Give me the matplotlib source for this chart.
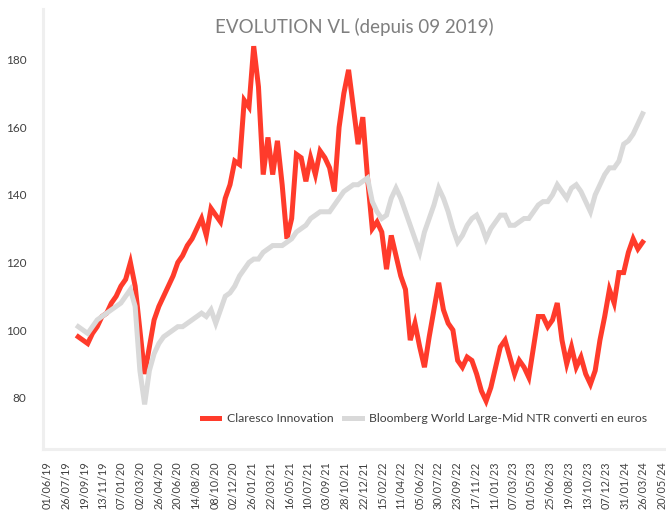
import matplotlib
matplotlib.use("Agg")
import matplotlib.pyplot as plt
import pandas as pd

plt.rcParams['font.family'] = ['Lato', 'DejaVu Sans']

title = "EVOLUTION VL (depuis 09 2019)"
name_claresco = "Claresco Innovation"
name_bloomberg = "Bloomberg World Large-Mid NTR converti en euros"

dates = pd.date_range("2019-09-01", periods=120, freq="14D")

claresco = [98, 97, 96, 99, 101, 104, 105, 108, 110, 113,
            115, 120, 113, 100, 87, 95, 103, 107, 110, 113,
            116, 120, 122, 125, 127, 130, 133, 128, 136, 134,
            132, 139, 143, 150, 149, 168, 166, 184, 172, 146,
            157, 146, 156, 143, 127, 133, 152, 151, 144, 151,
            146, 153, 151, 148, 141, 160, 170, 177, 166, 155,
            163, 145, 130, 132, 129, 118, 128, 122, 116, 112,
            97, 102, 95, 89, 98, 106, 114, 106, 102, 100,
            91, 89, 92, 91, 87, 82, 79, 83, 89, 95,
            97, 92, 87, 91, 89, 86, 95, 104, 104, 101,
            103, 108, 97, 90, 95, 89, 92, 87, 84, 88,
            97, 104, 112, 108, 117, 117, 123, 127, 124, 126]

bloomberg = [101, 100, 99, 101, 103, 104, 105, 106, 107, 108,
             110, 112, 107, 88, 78, 88, 93, 96, 98, 99,
             100, 101, 101, 102, 103, 104, 105, 104, 106, 102,
             106, 110, 111, 113, 116, 118, 120, 121, 121, 123,
             124, 125, 125, 125, 126, 127, 129, 130, 131, 133,
             134, 135, 135, 135, 137, 139, 141, 142, 143, 143,
             144, 145, 138, 135, 133, 134, 139, 142, 139, 135,
             131, 127, 123, 129, 133, 137, 142, 139, 135, 130,
             126, 128, 131, 133, 134, 131, 127, 130, 132, 134,
             134, 131, 131, 132, 133, 133, 135, 137, 138, 138,
             140, 143, 141, 139, 142, 143, 141, 138, 135, 140,
             143, 146, 148, 148, 150, 155, 156, 158, 161, 164]

tick_labels = ["01/06/19", "26/07/19", "19/09/19", "13/11/19", "07/01/20", "02/03/20",
               "26/04/20", "20/06/20", "14/08/20", "08/10/20", "02/12/20", "26/01/21",
               "22/03/21", "16/05/21", "10/07/21", "03/09/21", "28/10/21", "22/12/21",
               "15/02/22", "11/04/22", "05/06/22", "30/07/22", "23/09/22", "17/11/22",
               "11/01/23", "07/03/23", "01/05/23", "25/06/23", "19/08/23", "13/10/23",
               "07/12/23", "31/01/24", "26/03/24", "20/05/24"]
y_ticks = [80, 100, 120, 140, 160, 180]

tick_dates = pd.to_datetime(tick_labels, format="%d/%m/%y")

fig = plt.figure(figsize=(6.66, 5.13), dpi=100)
ax = fig.add_axes([43 / 666, 64 / 513, 623 / 666, 440 / 513])

ax.plot(dates, claresco, color="#ff3b2b", lw=3.6, solid_joinstyle="miter",
        label=name_claresco, zorder=2)
ax.plot(dates, bloomberg, color="#d9d9d9", lw=3.6, solid_joinstyle="miter",
        label=name_bloomberg, zorder=3)

ax.set_xlim(pd.Timestamp("2019-05-20"), pd.Timestamp("2024-06-01"))
ax.set_ylim(64.8, 195)
ax.set_xticks(tick_dates)
ax.set_xticklabels(tick_labels, rotation=90, fontsize=7.8, color="#404040")
ax.set_yticks(y_ticks)
ax.set_yticklabels([str(v) for v in y_ticks], fontsize=8.5, color="#404040")
ax.tick_params(axis="both", length=0)
ax.tick_params(axis="y", pad=12)
ax.tick_params(axis="x", pad=9)

for s in ["top", "right"]:
    ax.spines[s].set_visible(False)
for s in ["left", "bottom"]:
    ax.spines[s].set_color("#efefef")
    ax.spines[s].set_linewidth(2.2)

ax.text(0.5, 1 - 18 / 440, title, transform=ax.transAxes, ha="center", va="center",
        fontsize=13.5, color="#7f7f7f")

leg = ax.legend(loc="center right", bbox_to_anchor=(1 - 8 / 623, 30 / 440), ncol=2,
                frameon=False, fontsize=8.8, handlelength=1.4, columnspacing=0.9,
                handletextpad=0.6, labelcolor="#404040")

fig.savefig("out.png", dpi=100)
